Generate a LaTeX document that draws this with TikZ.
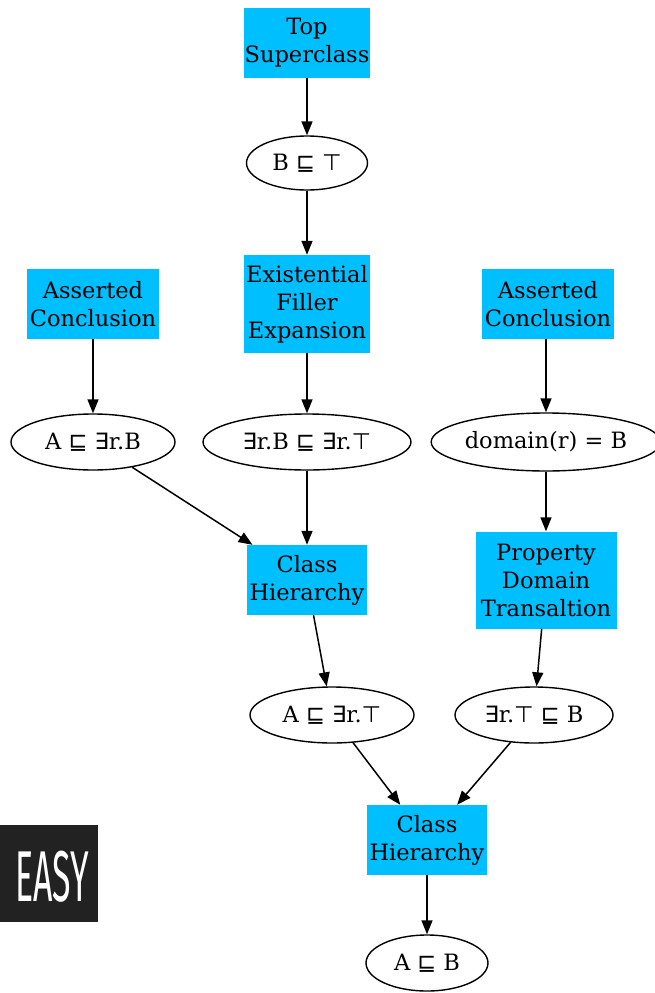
\documentclass[tikz,border=0pt]{standalone}
\usepackage{fontspec}
\setmainfont{DejaVu Serif}
\newfontfamily\badgefont{Fira Sans}
\newfontfamily\symfont{DejaVu Sans}
\newcommand{\Sq}{{\symfont ⊑}}
\newcommand{\Ex}{{\symfont ∃}}
\newcommand{\Tp}{{\symfont ⊤}}
\usetikzlibrary{arrows.meta,shapes.geometric}
\definecolor{boxblue}{HTML}{00BFFF}
\definecolor{badgebg}{HTML}{222222}
\begin{document}
\begin{tikzpicture}[x=1pt,y=-1pt,
  font=\fontsize{22.5}{28}\selectfont,
  rulebox/.style={fill=boxblue, align=center, inner sep=1pt, minimum height=70pt},
  stmt/.style={ellipse, draw, line width=1.4pt, inner sep=0pt, minimum height=56pt},
  conn/.style={-{Triangle[length=14pt,width=11pt]}, line width=1.5pt}]
\useasboundingbox (0,0) rectangle (655,993);

% rule boxes
\node[rulebox, minimum width=126pt] (top) at (307,43) {Top\\Superclass};
\node[rulebox, minimum width=126pt, minimum height=98pt] (efe) at (307,304) {Existential\\Filler\\Expansion};
\node[rulebox, minimum width=132pt] (acl) at (93,304) {Asserted\\Conclusion};
\node[rulebox, minimum width=132pt] (acr) at (548,304) {Asserted\\Conclusion};
\node[rulebox, minimum width=141pt, minimum height=97pt] (pdt) at (546,580) {Property\\Domain\\Transaltion};
\node[rulebox, minimum width=120pt] (chm) at (307,580) {Class\\Hierarchy};
\node[rulebox, minimum width=120pt] (chb) at (427,840) {Class\\Hierarchy};

% statements
\node[stmt, minimum width=121pt, minimum height=54pt] (bt) at (307,163) {B \Sq{} \Tp};
\node[stmt, minimum width=164pt] (aerb) at (93,442) {A \Sq{} \Ex r.B};
\node[stmt, minimum width=208pt] (erbert) at (307,442) {\Ex r.B \Sq{} \Ex r.\Tp};
\node[stmt, minimum width=217pt, minimum height=58pt] (dom) at (546,442) {domain(r) = B};
\node[stmt, minimum width=164pt] (aert) at (332,715) {A \Sq{} \Ex r.\Tp};
\node[stmt, minimum width=158pt] (ertb) at (534,715) {\Ex r.\Tp{} \Sq{} B};
\node[stmt, minimum width=122pt] (ab) at (427,963) {A \Sq{} B};

% connectors
\draw[conn] (top) -- (bt);
\draw[conn] (bt) -- (efe);
\draw[conn] (efe) -- (erbert);
\draw[conn] (acl) -- (aerb);
\draw[conn] (acr.south -| dom.north) -- (dom);
\draw[conn] (aerb) -- (chm);
\draw[conn] (erbert) -- (chm);
\draw[conn] (dom) -- (pdt);
\draw[conn] (chm) -- (aert);
\draw[conn] (pdt) -- (ertb);
\draw[conn] (aert) -- (chb);
\draw[conn] (ertb) -- (chb);
\draw[conn] (chb) -- (ab);

% badge
\node[fill=badgebg, minimum width=98pt, minimum height=97pt, inner sep=0pt] (badge) at (49,873.5) {};
\node[text=white, inner sep=0pt] (easy) at (52,877) {\scalebox{0.47}[1]{\badgefont\fontsize{72}{72}\selectfont EASY}};
\end{tikzpicture}
\end{document}
